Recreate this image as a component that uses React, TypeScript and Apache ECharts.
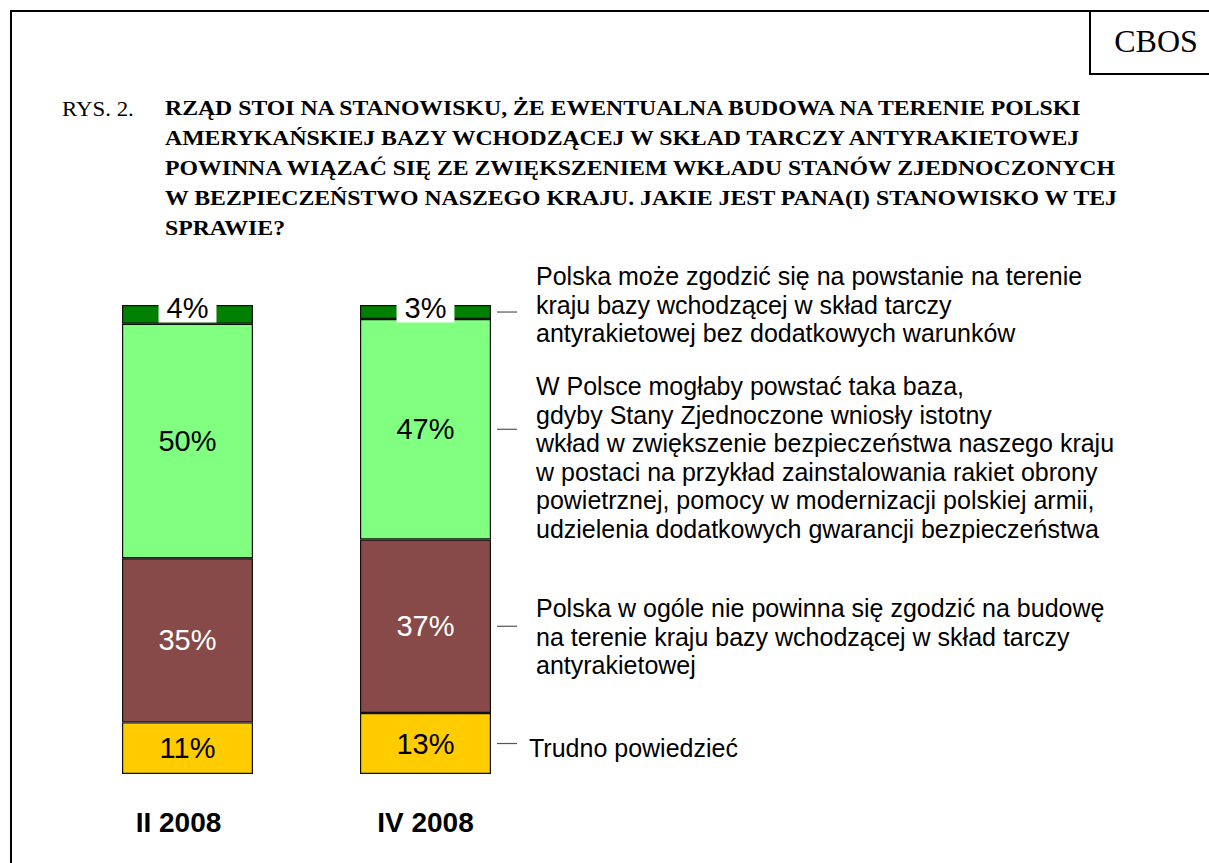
import React, { useEffect, useRef } from "react";
import * as echarts from "echarts";

const categories = ["II 2008", "IV 2008"];
const seriesNames = [
  "Trudno powiedzieć",
  "Polska w ogóle nie powinna się zgodzić",
  "W Polsce mogłaby powstać taka baza, gdyby...",
  "Polska może zgodzić się bez dodatkowych warunków",
];
const trudnoValues = [11, 13];
const nieValues = [35, 37];
const warunkiValues = [50, 47];
const bezValues = [4, 3];
const seriesColors = ["#FFCC00", "#884A48", "#80FF80", "#008000"];
const labelColors = ["#000", "#fff", "#000", "#000"];

const titlePrefix = "RYS. 2.";
const titleLines = [
  "RZĄD STOI NA STANOWISKU, ŻE EWENTUALNA BUDOWA NA TERENIE POLSKI",
  "AMERYKAŃSKIEJ BAZY WCHODZĄCEJ W SKŁAD TARCZY ANTYRAKIETOWEJ",
  "POWINNA WIĄZAĆ SIĘ ZE ZWIĘKSZENIEM WKŁADU STANÓW ZJEDNOCZONYCH",
  "W BEZPIECZEŃSTWO NASZEGO KRAJU. JAKIE JEST PANA(I) STANOWISKO W TEJ",
  "SPRAWIE?",
];

const annotationBez = [
  "Polska może zgodzić się na powstanie na terenie",
  "kraju bazy wchodzącej w skład tarczy",
  "antyrakietowej bez dodatkowych warunków",
];
const annotationWarunki = [
  "W Polsce mogłaby powstać taka baza,",
  "gdyby Stany Zjednoczone wniosły istotny",
  "wkład w zwiększenie bezpieczeństwa naszego kraju",
  "w postaci na przykład zainstalowania rakiet obrony",
  "powietrznej, pomocy w modernizacji polskiej armii,",
  "udzielenia dodatkowych gwarancji bezpieczeństwa",
];
const annotationNie = [
  "Polska w ogóle nie powinna się zgodzić na budowę",
  "na terenie kraju bazy wchodzącej w skład tarczy",
  "antyrakietowej",
];
const annotationTrudno = ["Trudno powiedzieć"];

const SANS = "'Liberation Sans', Arial, Helvetica, sans-serif";
const SERIF = "'Liberation Serif', 'Times New Roman', serif";

export default function App() {
  const ref = useRef<HTMLDivElement>(null);

  useEffect(() => {
    if (!ref.current) return;
    const chart = echarts.init(ref.current, null, { renderer: "svg" });
    const allValues = [trudnoValues, nieValues, warunkiValues, bezValues];
    const barWidth = 131;

    const series = allValues.map((vals, i) => {
      const isTop = i === 3;
      return {
        name: seriesNames[i],
        type: "bar",
        stack: "total",
        barWidth,
        data: vals,
        itemStyle: {
          color: seriesColors[i],
          borderColor: "#111",
          borderWidth: 1.2,
        },
        label: isTop
          ? {
              show: true,
              position: ["50%", 0],
              align: "center",
              verticalAlign: "middle",
              offset: [0, 3],
              formatter: "{c}%",
              color: "#000",
              fontSize: 29,
              fontFamily: SANS,
              backgroundColor: "#fff",
              padding: [0, 8, 0, 8],
            }
          : {
              show: true,
              position: "inside",
              formatter: "{c}%",
              color: labelColors[i],
              fontSize: 29,
              fontFamily: SANS,
            },
      };
    });

    const staticGraphics: any[] = [
      {
        type: "rect",
        shape: { x: 11, y: 11, width: 1400, height: 1000 },
        style: { fill: "none", stroke: "#000", lineWidth: 2 },
        silent: true,
      },
      {
        type: "polyline",
        shape: { points: [[1090, 11], [1090, 74], [1300, 74]] },
        style: { fill: "none", stroke: "#000", lineWidth: 2 },
      },
      {
        type: "text",
        x: 1156,
        y: 41,
        style: {
          text: "CBOS",
          x: 0,
          y: 0,
          align: "center",
          verticalAlign: "middle",
          fontSize: 32,
          fontFamily: SERIF,
          fill: "#000",
        },
      },
      {
        type: "text",
        x: 62,
        y: 109,
        scaleX: 1.09,
        style: {
          text: titlePrefix,
          x: 0,
          y: 0,
          verticalAlign: "middle",
          fontSize: 21,
          fontFamily: SERIF,
          fill: "#000",
        },
      },
      ...titleLines.map((line, i) => ({
        type: "text",
        x: 165,
        y: 108 + i * 30,
        scaleX: 1.08,
        style: {
          text: line,
          x: 0,
          y: 0,
          verticalAlign: "middle",
          fontSize: 22,
          fontWeight: "bold",
          fontFamily: SERIF,
          fill: "#000",
        },
      })),
    ];

    const option: any = {
      animation: false,
      backgroundColor: "#fff",
      grid: { left: 68.5, width: 476, top: 305, bottom: 89, containLabel: false },
      xAxis: {
        type: "category",
        data: [
          { value: categories[0], textStyle: { padding: [0, 18, 0, 0] } },
          { value: categories[1] },
        ],
        axisLine: { show: false },
        axisTick: { show: false },
        axisLabel: {
          margin: 34,
          fontSize: 28,
          fontWeight: "bold",
          color: "#000",
          fontFamily: SANS,
        },
      },
      yAxis: {
        type: "value",
        min: 0,
        max: 100,
        show: false,
        splitLine: { show: false },
      },
      series,
      graphic: staticGraphics,
    };
    chart.setOption(option);

    // connectors and annotation texts anchored to the second bar's segments
    const blocks = [annotationTrudno, annotationNie, annotationWarunki, annotationBez];
    const blockTops = [748, 608, 386, 276];
    const lineH = 28.6;
    const extra: any[] = [];
    let cum = 0;
    allValues.forEach((vals, i) => {
      const v = vals[1];
      const mid = cum + v / 2;
      cum += v;
      const p = chart.convertToPixel({ gridIndex: 0 }, [1, mid]) as number[];
      const xr = p[0] + barWidth / 2;
      extra.push({
        type: "line",
        shape: { x1: xr + 6, y1: p[1], x2: xr + 26, y2: p[1] },
        style: { stroke: "#555", lineWidth: 1.2 },
      });
      const textX = i === 0 ? xr + 38 : xr + 45;
      blocks[i].forEach((line, j) => {
        extra.push({
          type: "text",
          style: {
            text: line,
            x: textX,
            y: blockTops[i] + j * lineH,
            verticalAlign: "middle",
            fontSize: 25,
            fontFamily: SANS,
            fill: "#000",
          },
        });
      });
    });
    chart.setOption({ graphic: [...staticGraphics, ...extra] }, { replaceMerge: ["graphic"] });

    return () => chart.dispose();
  }, []);

  return (
    <div
      ref={ref}
      style={{ position: "absolute", left: 0, top: 0, width: 1209, height: 863, background: "#fff" }}
    />
  );
}
